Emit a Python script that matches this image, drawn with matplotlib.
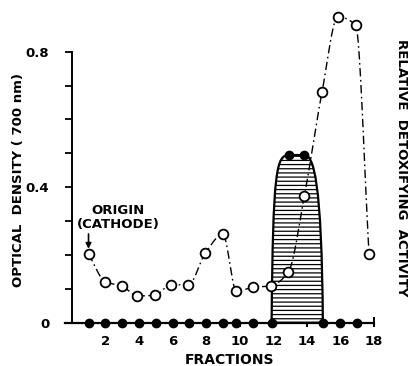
import matplotlib
matplotlib.use("Agg")
import matplotlib.pyplot as plt
from matplotlib.path import Path
import matplotlib.patches as mpatches
import numpy as np

# optical density (open circles), fraction positions as plotted
od_x = [1.0, 2.0, 3.0, 3.9, 4.95, 5.9, 6.95, 7.95, 9.0, 9.8, 10.8, 11.85, 12.9, 13.85, 14.9, 15.85, 16.9, 17.7]
od_y = [0.203, 0.121, 0.108, 0.079, 0.081, 0.112, 0.112, 0.205, 0.261, 0.094, 0.104, 0.109, 0.150, 0.374, 0.681, 0.903, 0.879, 0.203]

# relative detoxifying activity (filled dots)
act_x = [1, 2, 3, 4, 5, 6, 7, 8, 9, 9.8, 10.8, 11.9, 12.95, 13.85, 14.95, 16, 17]
act_y = [0, 0, 0, 0, 0, 0, 0, 0, 0, 0, 0, 0, 0.495, 0.495, 0, 0, 0]

x_ticks = [2, 4, 6, 8, 10, 12, 14, 16, 18]
y_ticks = [0, 0.4, 0.8]
y_labels = ["0", "0.4", "0.8"]


def pchip(xs, ys, n=40):
    # monotone cubic line through the points (no overshoot)
    x = np.asarray(xs, float)
    y = np.asarray(ys, float)
    h = np.diff(x)
    d = np.diff(y) / h
    m = np.zeros_like(y)
    for k in range(1, len(x) - 1):
        if d[k - 1] * d[k] > 0:
            w1 = 2 * h[k] + h[k - 1]
            w2 = h[k] + 2 * h[k - 1]
            m[k] = (w1 + w2) / (w1 / d[k - 1] + w2 / d[k])
    m[0], m[-1] = d[0], d[-1]
    px, py = [], []
    for k in range(len(x) - 1):
        t = np.linspace(0, 1, n)
        h00 = 2 * t**3 - 3 * t**2 + 1
        h10 = t**3 - 2 * t**2 + t
        h01 = -2 * t**3 + 3 * t**2
        h11 = t**3 - t**2
        px.append(x[k] + t * h[k])
        py.append(h00 * y[k] + h10 * h[k] * m[k] + h01 * y[k + 1] + h11 * h[k] * m[k + 1])
    return np.concatenate(px), np.concatenate(py)


fig = plt.figure(figsize=(4.08, 3.66), dpi=100)
ax = fig.add_axes([65 / 408, 43.3 / 366, 315.8 / 408, 318.4 / 366])
ax.set_xlim(-0.4, 18.4)
ax.set_ylim(0, 0.94)

for s in ["top", "right"]:
    ax.spines[s].set_visible(False)
ax.spines["left"].set_position(("data", 0))
ax.spines["left"].set_bounds(0, 0.8)
ax.spines["bottom"].set_bounds(-0.4, 18)
ax.spines["left"].set_linewidth(1.4)
ax.spines["bottom"].set_linewidth(1.6)
ax.vlines(18, 0, 0.018, color="black", lw=1.4)

# hatched activity peak
i12, i13, i14, i15 = 11, 12, 13, 14
top = act_y[i13]
verts = [
    (act_x[i12], act_y[i12]),
    (act_x[i12] + 0.08, top * 0.92), (act_x[i12] + 0.28, top), (act_x[i13], top),
    (act_x[i14], act_y[i14]),
    (act_x[i14] + 0.55, act_y[i14]), (act_x[i15] - 0.06, top * 0.85), (act_x[i15], act_y[i15]),
    (act_x[i12], act_y[i12]),
]
codes = [Path.MOVETO, Path.CURVE4, Path.CURVE4, Path.CURVE4, Path.LINETO,
         Path.CURVE4, Path.CURVE4, Path.CURVE4, Path.CLOSEPOLY]
plt.rcParams["hatch.linewidth"] = 0.9
peak = mpatches.PathPatch(Path(verts, codes), facecolor="white", edgecolor="black",
                          lw=1.6, hatch="----", zorder=2)
ax.add_patch(peak)

# optical density curve
cx, cy = pchip(od_x, od_y)
ax.plot(cx, cy, color="black", lw=1.0, linestyle=(0, (6, 2.5, 1.2, 2.5)), zorder=3, clip_on=False)
ax.plot(od_x, od_y, "o", ms=7, mfc="white", mec="black", mew=1.3, zorder=4, clip_on=False)

ax.plot(act_x, act_y, "o", ms=6, color="black", zorder=5, clip_on=False)

ax.set_xticks(x_ticks)
ax.set_xticklabels([str(t) for t in x_ticks], fontsize=9.5, fontweight="bold")
ax.tick_params(axis="x", direction="out", length=3, width=1.4, pad=6)
ax.set_yticks(y_ticks)
ax.set_yticklabels(y_labels, fontsize=9.5, fontweight="bold")
ax.set_yticks(np.arange(0, 0.81, 0.1), minor=True)
ax.tick_params(axis="y", which="both", direction="out", length=5, width=1.3, pad=11)

ax.text(2.75, 0.31, "ORIGIN\n(CATHODE)", ha="center", va="center",
        fontsize=9.5, fontweight="semibold", linespacing=1.05)
ax.annotate("", xy=(od_x[0], 0.218), xytext=(od_x[0], 0.262),
            arrowprops=dict(arrowstyle="-|>", color="black", lw=1.2, mutation_scale=8,
                            shrinkA=0, shrinkB=0))

fig.text(230 / 408, 1 - 360 / 366, "FRACTIONS", ha="center", va="center",
         fontsize=10, fontweight="bold")
fig.text(19 / 408, 1 - 180 / 366, "OPTICAL  DENSITY ( 700 nm)", rotation=90,
         ha="center", va="center", fontsize=9.5, fontweight="bold")
fig.text(401 / 408, 1 - 168 / 366, "RELATIVE  DETOXIFYING  ACTIVITY", rotation=-90,
         ha="center", va="center", fontsize=9.5, fontweight="bold")

fig.savefig("out.png", dpi=100)
